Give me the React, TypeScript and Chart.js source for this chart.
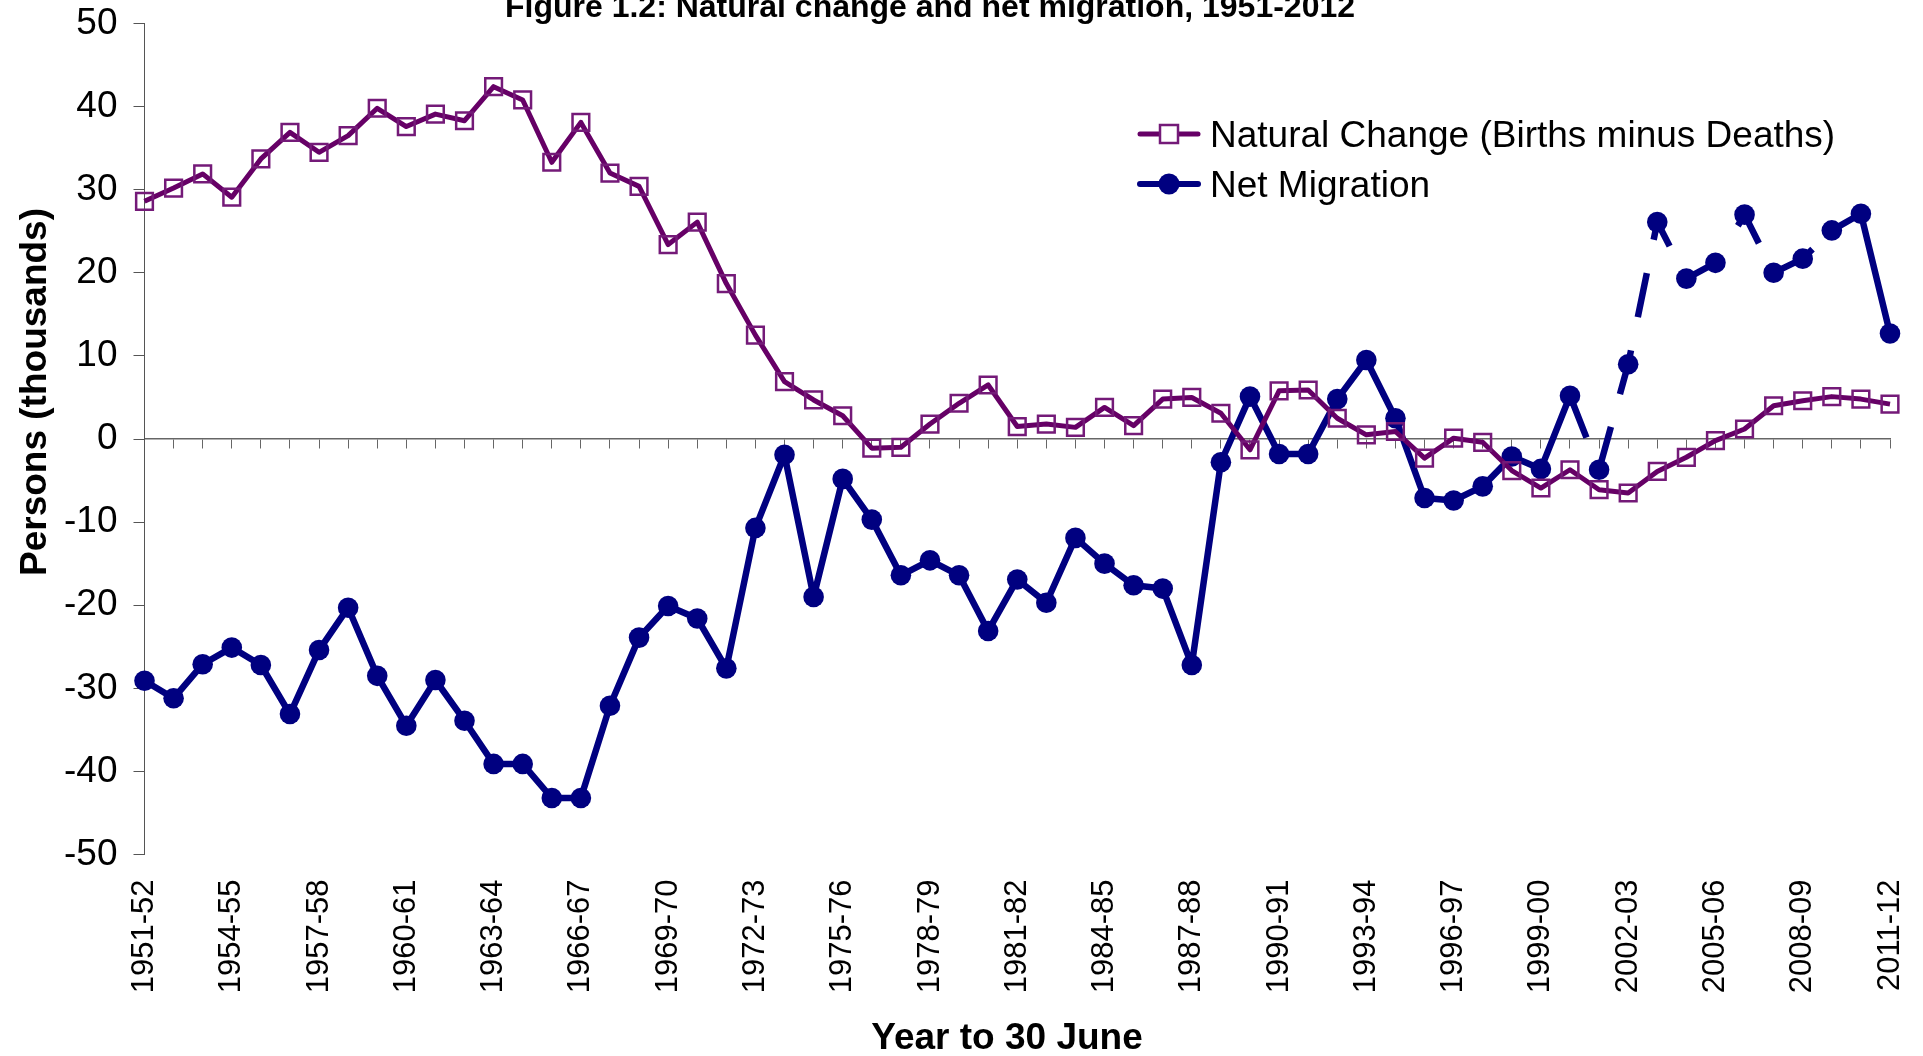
import React, { useEffect, useRef } from "react";
import { Chart, registerables } from "chart.js";

Chart.register(...registerables);

const FONT = '"Liberation Sans", Arial, Helvetica, sans-serif';

const chartTitle = "Figure 1.2: Natural change and net migration, 1951-2012";
const xTitle = "Year to 30 June";
const yTitle = "Persons (thousands)";

const categories = [
  "1951-52", "1952-53", "1953-54", "1954-55", "1955-56", "1956-57", "1957-58", "1958-59", "1959-60", "1960-61",
  "1961-62", "1962-63", "1963-64", "1964-65", "1965-66", "1966-67", "1967-68", "1968-69", "1969-70", "1970-71",
  "1971-72", "1972-73", "1973-74", "1974-75", "1975-76", "1976-77", "1977-78", "1978-79", "1979-80", "1980-81",
  "1981-82", "1982-83", "1983-84", "1984-85", "1985-86", "1986-87", "1987-88", "1988-89", "1989-90", "1990-91",
  "1991-92", "1992-93", "1993-94", "1994-95", "1995-96", "1996-97", "1997-98", "1998-99", "1999-00", "2000-01",
  "2001-02", "2002-03", "2003-04", "2004-05", "2005-06", "2006-07", "2007-08", "2008-09", "2009-10", "2010-11",
  "2011-12",
];

const naturalChange = [
  28.6, 30.2, 31.9, 29.1, 33.7, 36.9, 34.5, 36.5, 39.8, 37.6,
  39.1, 38.3, 42.4, 40.8, 33.3, 38.1, 32.0, 30.4, 23.4, 26.1,
  18.7, 12.5, 6.9, 4.7, 2.8, -1.1, -1.0, 1.8, 4.3, 6.5,
  1.5, 1.8, 1.4, 3.8, 1.6, 4.8, 5.0, 3.1, -1.3, 5.8,
  5.9, 2.5, 0.5, 0.9, -2.3, 0.1, -0.4, -3.8, -5.9, -3.7,
  -6.1, -6.5, -3.9, -2.2, -0.2, 1.2, 4.0, 4.6, 5.1, 4.8,
  4.2,
];

const netMigration = [
  -29.1, -31.2, -27.1, -25.1, -27.2, -33.1, -25.4, -20.3, -28.5, -34.5,
  -29.0, -33.9, -39.1, -39.1, -43.2, -43.2, -32.1, -23.9, -20.1, -21.6,
  -27.6, -10.7, -1.9, -19.0, -4.8, -9.7, -16.4, -14.6, -16.4, -23.1,
  -16.9, -19.7, -11.9, -15.0, -17.6, -18.0, -27.2, -2.8, 5.1, -1.8,
  -1.8, 4.8, 9.5, 2.5, -7.1, -7.4, -5.7, -2.1, -3.6, 5.2,
  -3.7, 9.0, 26.1, 19.3, 21.2, 27.0, 20.0, 21.7, 25.1, 27.1,
  12.7,
];

// net migration segments drawn dashed (between these two years)
const dashedFrom = "2000-01";
const dashedTo = "2009-10";

const seriesLabels = ["Natural Change (Births minus Deaths)", "Net Migration"];

const PURPLE = "#660066";
const PURPLE_MARK = "#741a78";
const NAVY = "#000080";

export default function App() {
  const ref = useRef<HTMLCanvasElement>(null);

  useEffect(() => {
    const canvas = ref.current;
    if (!canvas) return;
    const dashStart = categories.indexOf(dashedFrom);
    const dashEnd = categories.indexOf(dashedTo);

    const overlay = {
      id: "overlay",
      afterDraw(chart: any) {
        const ctx = chart.ctx as CanvasRenderingContext2D;
        ctx.save();
        ctx.fillStyle = "#000";
        ctx.textBaseline = "alphabetic";
        ctx.textAlign = "center";
        ctx.font = `bold 32px ${FONT}`;
        ctx.fillText(chartTitle, 930, 17);
        ctx.font = `bold 37px ${FONT}`;
        ctx.fillText(xTitle, 1007, 1049);
        ctx.save();
        ctx.translate(46, 392);
        ctx.rotate(-Math.PI / 2);
        ctx.fillText(yTitle, 0, 0);
        ctx.restore();

        // legend
        chart.data.datasets.forEach((ds: any, i: number) => {
          const cy = 134 + i * 50;
          ctx.strokeStyle = ds.borderColor;
          ctx.lineWidth = i === 0 ? 5 : 6;
          ctx.lineCap = "round";
          ctx.beginPath();
          ctx.moveTo(1140, cy);
          ctx.lineTo(1198, cy);
          ctx.stroke();
          if (i === 0) {
            ctx.fillStyle = "#fff";
            ctx.fillRect(1160, cy - 9, 18, 18);
            ctx.strokeStyle = PURPLE_MARK;
            ctx.lineWidth = 2.5;
            ctx.strokeRect(1160, cy - 9, 18, 18);
          } else {
            ctx.fillStyle = NAVY;
            ctx.beginPath();
            ctx.arc(1169, cy, 10.5, 0, Math.PI * 2);
            ctx.fill();
          }
          ctx.fillStyle = "#000";
          ctx.font = `37px ${FONT}`;
          ctx.textAlign = "left";
          ctx.fillText(ds.label, 1210, cy + 13);
        });
        ctx.restore();
      },
    };

    const chart = new Chart(canvas, {
      type: "line",
      data: {
        labels: categories,
        datasets: [
          {
            label: seriesLabels[0],
            data: naturalChange,
            borderColor: PURPLE,
            borderWidth: 5,
            borderJoinStyle: "round",
            pointStyle: "rect",
            pointRadius: 11.8,
            pointBorderColor: PURPLE_MARK,
            pointBackgroundColor: "rgba(0,0,0,0)",
            pointBorderWidth: 2.5,
            tension: 0,
            clip: false,
          } as any,
          {
            label: seriesLabels[1],
            data: netMigration,
            borderColor: NAVY,
            borderWidth: 6.5,
            borderJoinStyle: "round",
            pointStyle: "circle",
            pointRadius: 10.3,
            pointBackgroundColor: NAVY,
            pointBorderColor: NAVY,
            pointBorderWidth: 0,
            tension: 0,
            clip: false,
            segment: {
              borderDash: (ctx: any) =>
                ctx.p0DataIndex >= dashStart && ctx.p1DataIndex <= dashEnd ? [45, 34] : undefined,
            },
          } as any,
        ],
      },
      options: {
        responsive: false,
        animation: false,
        devicePixelRatio: 1,
        layout: { padding: { top: 23.5, right: 33, left: 0, bottom: 0 } },
        plugins: {
          legend: { display: false },
          tooltip: { enabled: false },
          title: { display: false },
        },
        scales: {
          x: {
            type: "category",
            offset: false,
            grid: { display: false, drawTicks: false },
            border: { display: false },
            ticks: {
              autoSkip: false,
              minRotation: 90,
              maxRotation: 90,
              padding: 25,
              color: "#000",
              font: { family: FONT, size: 31 },
              callback: (_v: any, i: number) => (i % 3 === 0 ? categories[i] : ""),
            },
            afterFit: (s: any) => {
              s.height = 201.5;
              s.paddingLeft = 0;
              s.paddingRight = 0;
            },
          },
          x2: {
            type: "category",
            position: { y: 0 } as any,
            offset: false,
            grid: {
              drawOnChartArea: false,
              drawTicks: true,
              tickLength: 9,
              color: "#666",
              lineWidth: 1,
            },
            border: { display: true, color: "#666", width: 1.5 },
            ticks: { display: false, autoSkip: false },
            afterFit: (s: any) => {
              s.paddingLeft = 0;
              s.paddingRight = 0;
            },
          },
          y: {
            type: "linear",
            min: -50,
            max: 50,
            grid: {
              drawOnChartArea: false,
              drawTicks: true,
              tickLength: 11,
              color: "#555",
              lineWidth: 1,
            },
            border: { display: true, color: "#555", width: 1 },
            ticks: {
              stepSize: 10,
              padding: 16,
              color: "#000",
              font: { family: FONT, size: 37 },
            },
            afterFit: (s: any) => {
              s.width = 144.5;
              s.paddingTop = 0;
              s.paddingBottom = 0;
            },
          },
        } as any,
      },
      plugins: [overlay],
    });

    return () => chart.destroy();
  }, []);

  return (
    <canvas
      ref={ref}
      width={1923}
      height={1056}
      style={{ position: "fixed", left: 0, top: 0, width: 1923, height: 1056, display: "block" }}
    />
  );
}
